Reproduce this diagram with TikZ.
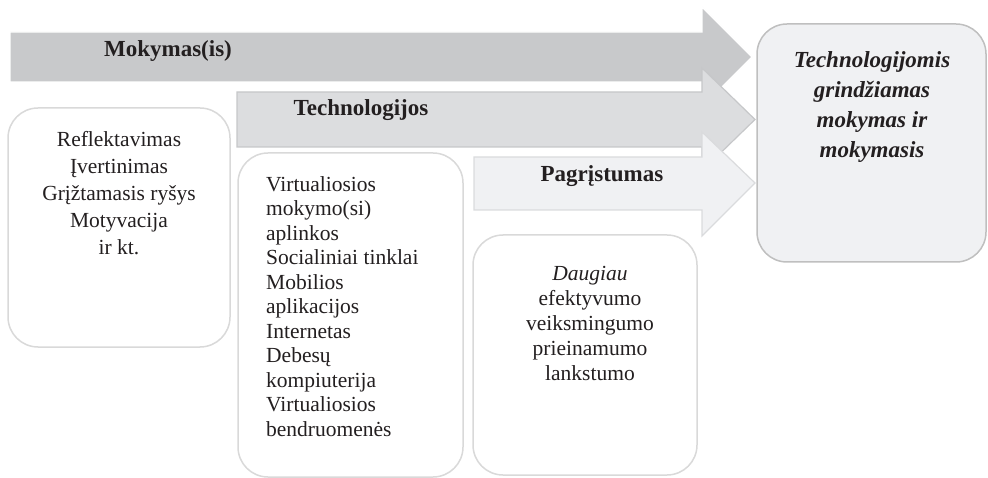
\documentclass[tikz,border=0pt]{standalone}
\usepackage{fontspec}
\setmainfont{Liberation Serif}
\definecolor{arrowA}{HTML}{C8C9CB}
\definecolor{arrowB}{HTML}{DCDDDF}
\definecolor{arrowBline}{HTML}{C6C7C9}
\definecolor{arrowC}{HTML}{F0F1F3}
\definecolor{arrowCline}{HTML}{DADBDD}
\definecolor{boxline}{HTML}{D9D9D9}
\definecolor{goalline}{HTML}{BFBFBF}
\definecolor{goalfill}{HTML}{F0F1F3}
\definecolor{txt}{HTML}{231F20}
\tikzset{
  bigarrow/.style={line width=1.2pt, line join=miter},
  listbox/.style={draw=boxline, line width=1.5pt, rounded corners=30pt, fill=white},
  goalbox/.style={draw=goalline, line width=1.5pt, rounded corners=30pt, fill=goalfill},
  arrowlabel/.style={font=\fontsize{23}{27}\selectfont\bfseries, text=txt, inner sep=0pt, anchor=base},
  listtext/.style={text=txt, inner sep=0pt, anchor=north},
}
\begin{document}
\begin{tikzpicture}[x=1pt, y=-1pt]
\useasboundingbox (0,0) rectangle (988,478);

% three stacked block arrows
\filldraw[bigarrow, fill=arrowA, draw=white]
  (10,32) -- (702,32) -- (702,7) -- (752,57) -- (702,107) -- (702,82) -- (10,82) -- cycle;
\filldraw[bigarrow, fill=arrowB, draw=arrowBline]
  (237,92) -- (702,92) -- (702,68) -- (755,119.5) -- (702,171) -- (702,147) -- (237,147) -- cycle;
\filldraw[bigarrow, fill=arrowC, draw=arrowCline]
  (474,157) -- (702,157) -- (702,132) -- (755,183) -- (702,236) -- (702,210) -- (474,210) -- cycle;

\node[arrowlabel] (mok) at (168,57) {Mokymas(is)};
\node[arrowlabel] (tech) at (361,116) {Technologijos};
\node[arrowlabel] (pagr) at (602,182) {Pagrįstumas};

% target box
\draw[goalbox] (757,24) rectangle (986,262);
\node[listtext, align=center, font=\fontsize{23}{30}\selectfont\bfseries\itshape] (goal) at (872,51)
  {Technologijomis\\grindžiamas\\mokymas ir\\ mokymasis};

% content boxes
\draw[listbox] (8,108) rectangle (230,347);
\node[listtext, align=center, font=\fontsize{21.5}{27}\selectfont] (proc) at (119,131)
  {Reflektavimas\\Įvertinimas\\Grįžtamasis ryšys\\Motyvacija\\ir kt.};

\draw[listbox] (238,153) rectangle (463,477);
\node[listtext, align=left, anchor=north west, font=\fontsize{21.5}{24.5}\selectfont] (tools) at (266,176)
  {Virtualiosios\\mokymo(si)\\aplinkos\\Socialiniai tinklai\\Mobilios\\aplikacijos\\Internetas\\Debesų\\kompiuterija\\Virtualiosios\\bendruomenės};

\draw[listbox] (473,235) rectangle (697,475);
\node[listtext, align=center, font=\fontsize{21.5}{25}\selectfont] (gain) at (590,266)
  {\textit{Daugiau}\\efektyvumo\\veiksmingumo\\prieinamumo\\lankstumo};
\end{tikzpicture}
\end{document}
